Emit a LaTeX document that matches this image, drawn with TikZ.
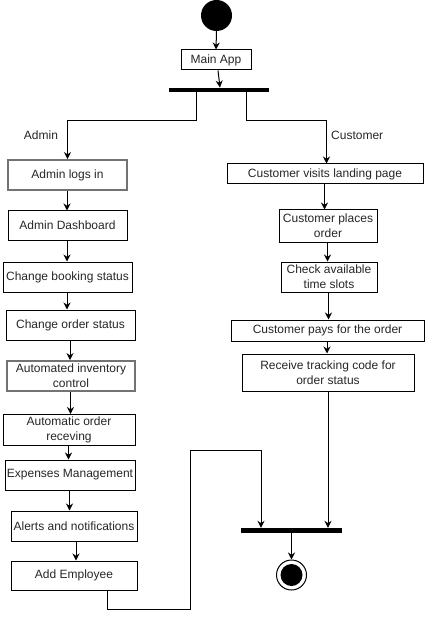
\documentclass[tikz,border=0pt]{standalone}
\usepackage{fontspec}
\setmainfont{Liberation Sans}
\usetikzlibrary{arrows.meta}
\tikzset{
  box/.style={draw=black, line width=1pt, rectangle, inner sep=1pt, align=center, font=\fontsize{12}{15}\selectfont, text=black!85},
  graybox/.style={box, draw=black!55, line width=1.8pt},
  bar/.style={fill=black, rectangle, inner sep=0pt},
  arr/.style={line width=1pt, -{Stealth[length=7pt,width=7pt]}},
  conn/.style={line width=1pt},
  lbl/.style={font=\fontsize{12}{15}\selectfont, text=black!85, inner sep=0pt}
}
\begin{document}
\begin{tikzpicture}[x=1pt,y=-1pt]
\useasboundingbox (0,0) rectangle (437,620);
% start / main
\node[circle, fill=black, minimum size=31pt, inner sep=0pt] (start) at (216.5,15.5) {};
\node[box, minimum width=70pt, minimum height=20pt] (main) at (216,60) {Main App};
\node[bar, minimum width=100pt, minimum height=4.5pt] (fork) at (219,90) {};
% admin column
\node[graybox, minimum width=119pt, minimum height=30pt] (adminlog) at (67.5,175) {Admin logs in};
\node[box, minimum width=119pt, minimum height=29pt] (dash) at (67.5,225.5) {Admin Dashboard};
\node[box, minimum width=129pt, minimum height=30pt] (booking) at (67.5,277) {Change booking status};
\node[box, minimum width=129pt, minimum height=30pt] (orderst) at (70.5,325) {Change order status};
\node[graybox, minimum width=128pt, minimum height=30pt] (inv) at (71,376) {Automated inventory\\control};
\node[box, minimum width=132pt, minimum height=31pt] (autoorder) at (69,430) {Automatic order\\receving};
\node[box, minimum width=130pt, minimum height=30pt] (expenses) at (70,475) {Expenses Management};
\node[box, minimum width=126pt, minimum height=30pt] (alerts) at (74,526) {Alerts and notifications};
\node[box, minimum width=126pt, minimum height=29pt] (addemp) at (74,575.5) {Add Employee};
% customer column
\node[box, minimum width=196pt, minimum height=20pt] (visits) at (325,174) {Customer visits landing page};
\node[box, minimum width=98pt, minimum height=32pt] (places) at (328,226) {Customer places\\order};
\node[box, minimum width=96pt, minimum height=30pt] (check) at (329,277) {Check available\\time slots};
\node[box, minimum width=193pt, minimum height=21pt] (pays) at (327.5,330.5) {Customer pays for the order};
\node[box, minimum width=172pt, minimum height=37pt] (receive) at (328,372.5) {Receive tracking code for\\order status};
% join / end
\node[bar, minimum width=101pt, minimum height=5pt] (join) at (291.5,530.5) {};
\node[circle, draw=black, line width=1pt, minimum size=30pt, inner sep=0pt] (endc) at (291.5,575) {};
\fill[black] (endc.center) circle (11pt);
% labels
\node[lbl] (ladmin) at (41,135) {Admin};
\node[lbl, anchor=west] (lcust) at (331,135) {Customer};
% connectors
\draw[arr] (start.south) -- (main.north);
\draw[arr] ([xshift=2pt]main.south) -- ([xshift=1pt]fork.north);
\draw[arr] ([xshift=-23pt]fork.south) -- ++(0,28) -| (adminlog.north);
\draw[arr] ([xshift=27pt]fork.south) -- ++(0,28) -| ([xshift=1.5pt]visits.north);
\foreach \a/\b in {adminlog/dash, dash/booking, booking/orderst, orderst/inv, inv/autoorder, autoorder/expenses, expenses/alerts, visits/places, places/check, check/pays, pays/receive}
  \draw[arr] ([xshift=-0.5pt]\a.south) -- ([xshift=-0.5pt]\a.south |- \b.north);
\draw[arr] ([xshift=2pt]alerts.south) -- ([xshift=2pt]alerts.south |- addemp.north);
\coordinate (k1) at (190.5,609);
\coordinate (k2) at (261,450);
\draw[arr] ([xshift=33pt]addemp.south) |- (k1) |- (k2) -- (k2 |- join.north);
\draw[arr] (receive.south) -- (receive.south |- join.north);
\draw[arr] (join.south) -- (endc.north);
\end{tikzpicture}
\end{document}
